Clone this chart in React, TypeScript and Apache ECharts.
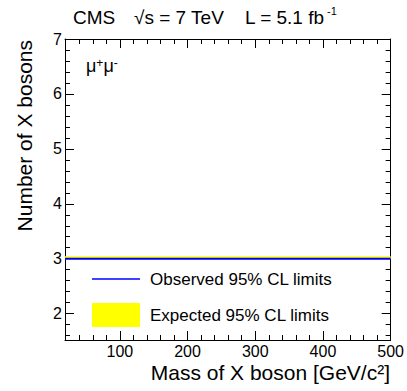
import React, { useEffect, useRef } from "react";
import * as echarts from "echarts";

const masses = [19, 100, 200, 300, 400, 500];
const observed = [3, 3, 3, 3, 3, 3];
const expectedLow = [3.0, 3.0, 3.0, 3.0, 3.0, 3.0];
const expectedHigh = [3.04, 3.04, 3.04, 3.04, 3.04, 3.04];

const xMin = 19;
const xMax = 500;
const yMin = 1.52;
const yMax = 7;
const xMajorTicks = [100, 200, 300, 400, 500];
const yMajorTicks = [2, 3, 4, 5, 6, 7];

const xMinorTicks: number[] = [];
for (let v = 20; v < xMax; v += 20) if (v % 100 !== 0) xMinorTicks.push(v);
const yMinorTicks: number[] = [];
for (let k = 8; k < 35; k++) if (k % 5 !== 0) yMinorTicks.push(Math.round(k * 20) / 100);

const FONT = "Liberation Sans, Arial, Helvetica, sans-serif";

export default function App() {
  const ref = useRef<HTMLDivElement>(null);
  useEffect(() => {
    if (!ref.current) return;
    const chart = echarts.init(ref.current, undefined, { renderer: "svg" });

    const mkX = (pos: string, major: boolean, main: boolean) => ({
      type: "value",
      min: xMin,
      max: xMax,
      position: pos,
      splitLine: { show: false },
      axisLine: { show: main, onZero: false, lineStyle: { color: "#000", width: 1 } },
      axisTick: {
        show: true,
        inside: true,
        length: major ? 9 : 5,
        customValues: major ? xMajorTicks : xMinorTicks,
        lineStyle: { color: "#000", width: 1 },
      },
      axisLabel:
        main && pos === "bottom"
          ? { show: true, customValues: xMajorTicks, color: "#000", fontSize: 16, lineHeight: 15, fontFamily: FONT, margin: 4 }
          : { show: false },
    });
    const mkY = (pos: string, major: boolean, main: boolean) => ({
      type: "value",
      min: yMin,
      max: yMax,
      position: pos,
      splitLine: { show: false },
      axisLine: { show: main, onZero: false, lineStyle: { color: "#000", width: 1 } },
      axisTick: {
        show: true,
        inside: true,
        length: major ? 9 : 5,
        customValues: major ? yMajorTicks : yMinorTicks,
        lineStyle: { color: "#000", width: 1 },
      },
      axisLabel:
        main && pos === "left"
          ? { show: true, customValues: yMajorTicks, color: "#000", fontSize: 16, fontFamily: FONT, margin: 3 }
          : { show: false },
    });

    const bandData = masses.map((m, i) => [m, expectedLow[i], expectedHigh[i]]);

    chart.setOption({
      animation: false,
      backgroundColor: "#fff",
      grid: { left: 65, right: 16, top: 39, bottom: 51, containLabel: false },
      xAxis: [mkX("bottom", true, true), mkX("bottom", false, false), mkX("top", true, true), mkX("top", false, false)],
      yAxis: [mkY("left", true, true), mkY("left", false, false), mkY("right", true, true), mkY("right", false, false)],
      series: [
        {
          type: "custom",
          name: "Expected 95% CL limits",
          data: bandData,
          silent: true,
          z: 1,
          renderItem: (params: any, api: any) => {
            const i = params.dataIndex;
            if (i >= bandData.length - 1) return null;
            const a = bandData[i];
            const b = bandData[i + 1];
            const p1 = api.coord([a[0], a[2]]);
            const p2 = api.coord([b[0], b[2]]);
            const p3 = api.coord([b[0], b[1]]);
            const p4 = api.coord([a[0], a[1]]);
            return {
              type: "polygon",
              shape: { points: [p1, p2, p3, p4] },
              style: { fill: "#ffff00", stroke: "#ffff00", lineWidth: 0.5 },
            };
          },
        },
        {
          type: "line",
          name: "Observed 95% CL limits",
          data: masses.map((m, i) => [m, observed[i]]),
          showSymbol: false,
          symbol: "none",
          lineStyle: { width: 2, color: "#0000ff" },
          silent: true,
          z: 2,
        },
      ],
      graphic: [
        { type: "text", z: 100, left: 73, top: 8, style: { text: "CMS", fontSize: 19, fontFamily: FONT, fill: "#000" } },
        { type: "text", z: 100, left: 134, top: 8, style: { text: "√s = 7 TeV", fontSize: 19, fontFamily: FONT, fill: "#000" } },
        { type: "text", z: 100, left: 245, top: 8, style: { text: "L = 5.1 fb", fontSize: 19, fontFamily: FONT, fill: "#000" } },
        { type: "text", z: 100, left: 327, top: 5, style: { text: "-1", fontSize: 11, fontFamily: FONT, fill: "#000" } },
        {
          type: "text",
          z: 100,
          left: 86,
          top: 57,
          style: {
            text: "{m|μ}{s|+}{m|μ}{s|-}",
            fontFamily: FONT,
            fill: "#000",
            rich: {
              m: { fontSize: 18, fontFamily: FONT, verticalAlign: "bottom" },
              s: { fontSize: 12, fontFamily: FONT, verticalAlign: "top" },
            },
          },
        },
        {
          type: "line",
          z: 100,
          shape: { x1: 92, y1: 279, x2: 140, y2: 279 },
          style: { stroke: "#0000ff", lineWidth: 1.5 },
        },
        {
          type: "text",
          z: 100,
          x: 150,
          y: 279,
          style: { text: "Observed 95% CL limits", fontSize: 17, fontFamily: FONT, fill: "#000", textVerticalAlign: "middle" },
        },
        { type: "rect", z: 100, shape: { x: 92, y: 303, width: 48, height: 24 }, style: { fill: "#ffff00" } },
        {
          type: "text",
          z: 100,
          x: 150,
          y: 315,
          style: { text: "Expected 95% CL limits", fontSize: 17, fontFamily: FONT, fill: "#000", textVerticalAlign: "middle" },
        },
        {
          type: "text",
          z: 100,
          x: 24,
          y: 40,
          rotation: Math.PI / 2,
          style: {
            text: "Number of X bosons",
            fontSize: 21,
            fontFamily: FONT,
            fill: "#000",
            textAlign: "right",
            textVerticalAlign: "middle",
          },
        },
        {
          type: "text",
          z: 100,
          x: 390,
          y: 372,
          style: {
            text: "Mass of X boson [GeV/c²]",
            fontSize: 21,
            fontFamily: FONT,
            fill: "#000",
            textAlign: "right",
            textVerticalAlign: "middle",
          },
        },
      ],
    });
    return () => chart.dispose();
  }, []);
  return <div ref={ref} style={{ width: 407, height: 391, position: "absolute", left: 0, top: 0 }} />;
}
